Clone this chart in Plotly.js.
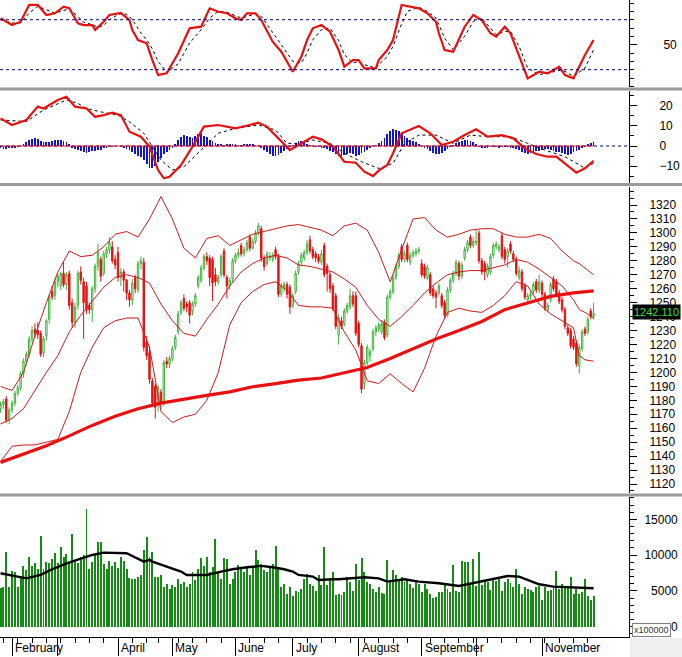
<!DOCTYPE html>
<html><head><meta charset="utf-8">
<script src="https://cdn.plot.ly/plotly-3.0.1.min.js"></script>
<style>html,body{margin:0;padding:0;background:#fff;}#chart{width:682px;height:657px;}</style>
</head><body><div id="chart"></div>
<script>
// ---------- price (OHLC), one value per trading day ----------
const openP = [
1174,1177,1181,1166,1173,1178,1185,1189,1199,1208,
1213,1224,1231,1230,1228,1214,1226,1238,1258,1255,
1265,1262,1271,1263,1271,1250,1236,1248,1272,1265,
1262,1248,1245,1260,1276,1281,1271,1285,1288,1290,
1281,1286,1268,1272,1266,1257,1252,1268,1259,1278,
1279,1222,1214,1194,1190,1178,1186,1178,1208,1206,
1210,1218,1229,1243,1253,1249,1250,1244,1249,1262,
1266,1275,1283,1282,1281,1270,1265,1270,1287,1268,
1262,1267,1280,1284,1291,1285,1288,1297,1289,1294,
1300,1303,1282,1278,1282,1281,1288,1283,1256,1260,
1263,1261,1248,1258,1272,1279,1282,1286,1295,1288,
1285,1283,1279,1291,1276,1270,1262,1255,1227,1237,
1235,1244,1247,1255,1255,1235,1219,1192,1207,1212,
1217,1229,1231,1229,1236,1227,1254,1258,1268,1276,
1290,1281,1291,1279,1284,1285,1287,1278,1276,1268,
1270,1260,1257,1257,1255,1250,1241,1259,1266,1271,
1278,1269,1282,1288,1297,1291,1293,1300,1280,1278,
1270,1272,1284,1290,1288,1298,1288,1283,1292,1285,
1281,1268,1272,1262,1252,1255,1258,1265,1259,1264,
1256,1245,1252,1267,1265,1257,1252,1245,1232,1230,
1224,1221,1205,1217,1231,1229,1244,1240];
const highP = [
1179,1181,1183,1175,1180,1187,1191,1201,1210,1215,
1226,1233,1235,1236,1230,1226,1238,1256,1262,1267,
1271,1272,1279,1272,1273,1253,1250,1273,1276,1268,
1265,1250,1262,1278,1292,1283,1287,1290,1297,1294,
1284,1290,1275,1274,1267,1259,1267,1270,1280,1283,
1282,1226,1219,1196,1192,1191,1188,1209,1211,1212,
1219,1227,1244,1252,1256,1251,1252,1251,1257,1270,
1277,1285,1286,1284,1283,1275,1270,1285,1289,1270,
1268,1282,1286,1289,1293,1290,1295,1299,1296,1302,
1307,1305,1284,1287,1286,1286,1290,1285,1264,1265,
1265,1263,1257,1273,1280,1286,1288,1295,1298,1290,
1287,1285,1288,1293,1278,1272,1264,1257,1242,1240,
1246,1250,1260,1258,1258,1237,1221,1209,1220,1217,
1231,1234,1236,1237,1238,1256,1260,1270,1278,1286,
1292,1287,1293,1286,1288,1289,1290,1281,1278,1277,
1272,1262,1259,1264,1257,1252,1261,1268,1273,1281,
1280,1279,1290,1295,1299,1297,1303,1302,1282,1280,
1278,1285,1293,1294,1292,1300,1290,1289,1294,1287,
1283,1276,1274,1264,1257,1258,1265,1267,1270,1266,
1258,1250,1265,1269,1267,1259,1254,1247,1234,1232,
1226,1223,1220,1231,1233,1240,1246,1250];
const lowP = [
1171,1174,1164,1163,1171,1176,1183,1187,1196,1205,
1211,1221,1225,1224,1211,1211,1223,1235,1252,1252,
1261,1259,1261,1259,1245,1232,1232,1245,1263,1224,
1242,1242,1236,1257,1273,1265,1269,1282,1285,1278,
1274,1265,1262,1258,1252,1247,1248,1257,1257,1274,
1215,1209,1192,1176,1167,1172,1175,1176,1203,1203,
1208,1216,1227,1241,1244,1243,1235,1241,1247,1260,
1264,1273,1277,1262,1251,1262,1263,1268,1268,1253,
1259,1265,1278,1282,1283,1283,1286,1287,1288,1292,
1298,1279,1273,1276,1280,1279,1281,1254,1254,1258,
1253,1242,1246,1256,1270,1277,1280,1284,1285,1281,
1279,1278,1277,1268,1258,1257,1244,1231,1220,1231,
1233,1242,1245,1247,1226,1218,1185,1188,1205,1208,
1215,1226,1229,1227,1223,1225,1252,1256,1266,1274,
1279,1279,1279,1277,1282,1283,1285,1268,1267,1266,
1255,1253,1246,1255,1246,1239,1240,1257,1264,1269,
1266,1267,1280,1286,1289,1289,1291,1278,1270,1266,
1268,1270,1282,1288,1286,1281,1278,1275,1285,1279,
1269,1266,1258,1252,1250,1252,1256,1257,1257,1254,
1244,1243,1250,1258,1254,1249,1243,1231,1226,1217,
1216,1204,1199,1215,1226,1227,1238,1238];
const closeP = [
1177,1179,1166,1173,1178,1185,1189,1199,1208,1213,
1224,1230,1228,1227,1213,1224,1237,1254,1254,1265,
1269,1271,1263,1270,1248,1236,1247,1271,1266,1250,
1245,1245,1260,1276,1286,1269,1285,1288,1293,1280,
1277,1268,1272,1266,1257,1252,1264,1260,1278,1280,
1218,1212,1195,1178,1175,1189,1178,1207,1206,1210,
1217,1225,1242,1250,1246,1247,1241,1249,1255,1268,
1275,1283,1280,1268,1264,1265,1268,1283,1270,1262,
1266,1280,1284,1286,1285,1288,1293,1289,1294,1300,
1305,1282,1276,1285,1283,1284,1283,1256,1262,1263,
1256,1247,1255,1271,1278,1284,1286,1292,1287,1283,
1282,1280,1285,1270,1271,1260,1246,1233,1239,1233,
1244,1248,1255,1249,1228,1220,1188,1207,1218,1215,
1229,1232,1234,1235,1225,1254,1258,1268,1276,1284,
1281,1285,1281,1284,1286,1287,1288,1270,1269,1275,
1257,1255,1254,1262,1248,1241,1259,1266,1271,1279,
1269,1277,1288,1293,1291,1294,1294,1280,1272,1272,
1276,1283,1291,1292,1290,1283,1281,1287,1287,1281,
1271,1273,1260,1254,1255,1256,1263,1259,1265,1256,
1246,1248,1263,1260,1256,1251,1245,1233,1228,1219,
1218,1206,1218,1229,1228,1238,1240,1242.11];
const lastPriceLabel = '1242.110';
const priceTicks = [1120,1130,1140,1150,1160,1170,1180,1190,1200,1210,1220,1230,1240,1250,1260,1270,1280,1290,1300,1310,1320];

// ---------- volume (x100000) ----------
const volume = [
5400,5500,10500,5600,7800,7700,5500,6800,8500,7900,
9800,8500,8900,8000,12700,8000,9000,8900,9500,10300,
8900,11100,9700,10200,9100,12900,9300,8900,9800,10000,
16400,8000,9000,10200,11900,11800,8800,8000,9200,8500,
9000,8200,9700,9200,8000,6800,6600,6700,6900,7200,
10700,12600,9800,10400,7000,6900,7200,5500,6000,5300,
5800,5600,6600,6000,6300,5500,6000,7600,6500,8000,
9600,8500,9800,7700,8300,12200,7500,6600,9600,9400,
6000,6700,7700,8600,8000,7700,8300,7200,8300,10700,
9300,8800,7900,7600,8300,8800,11300,8000,5600,6000,
4600,5500,4300,5000,4900,5300,6600,7300,6000,5700,
5000,7200,5800,11200,5800,6500,7600,4400,4500,4400,
4800,6900,6200,5000,8800,6500,9600,7600,6200,5900,
5300,4800,5600,4700,4500,9300,6500,7900,7200,6400,
6900,6200,6700,6000,5400,6200,6000,4900,6000,5300,
4500,4000,4100,4900,4800,5900,5200,4900,8600,5000,
4800,9200,9000,9000,6100,9500,5700,10400,5800,6400,
6200,5100,6700,6400,7000,5000,6200,6600,6100,5500,
8000,5900,4600,5500,5200,5100,4800,5600,5700,3800,
5500,5000,5100,5400,7800,5200,6000,5400,5700,7000,
4500,5200,4600,4900,6700,4300,3800,4300];
const volMaDay = [0,9,14,18,23,28,32,36,40,44,46,50,52,53,58,63,65,72,77,81,86,91,95,99,102,104,109,111,116,118,127,132,135,141,146,153,160,167,171,177,181,188,193,200,207];
const volMaVal = [7460,6760,7230,8020,8860,9560,10020,10350,10350,10260,9880,9090,9330,9090,8400,7700,7230,7230,7700,8020,8300,8490,8300,8020,7700,7230,7000,6530,6620,6620,6900,6760,6300,6620,6300,6070,5690,6300,6620,7090,7000,5930,5600,5510,5370];
const volTicks = [0,5000,10000,15000];
const volTickText = ['\u2007\u2007\u2007\u20070','\u20075000','10000','15000'];
const volUnitLabel = 'x100000';

// ---------- Bollinger bands & MA200 (read at sample days) ----------
const bbDay   = [0,4,8,12,16,20,24,28,32,36,40,44,48,52,56,60,64,68,72,76,80,84,88,92,96,100,104,108,112,116,120,124,128,132,136,140,144,148,152,156,160,164,168,172,176,180,184,188,192,196,200,202,204,207];
const bbUpper = [1190,1187,1200,1226,1250,1272,1287,1283,1284,1290,1299,1301,1297,1310,1326,1310,1289,1282,1296,1298,1291,1295,1299,1301,1303,1305,1306,1304,1302,1298,1305,1307,1302,1286,1265,1288,1310,1311,1302,1297,1299,1302,1303,1303,1299,1297,1297,1299,1296,1287,1280,1278,1275,1270];
const bbMid   = [1163,1167,1174,1187,1200,1212,1229,1241,1251,1261,1268,1270,1268,1264,1249,1237,1228,1226,1238,1249,1262,1272,1278,1282,1284,1282,1277,1276,1274,1272,1267,1261,1248,1238,1233,1240,1248,1257,1264,1270,1272,1273,1273,1275,1277,1281,1279,1274,1268,1262,1252,1245,1243,1239];
const bbLower = [1136,1147,1148,1148,1150,1152,1172,1200,1218,1232,1237,1239,1239,1218,1172,1164,1168,1170,1180,1200,1234,1250,1258,1263,1265,1259,1248,1247,1247,1246,1229,1216,1194,1192,1199,1192,1186,1203,1226,1243,1246,1244,1243,1248,1255,1265,1262,1249,1242,1237,1232,1212,1209,1208];
const ma200Day = [0,8,16,24,32,40,48,56,64,72,80,88,96,104,112,120,128,136,144,152,160,168,176,184,192,200,207];
const ma200Val = [1135.5,1141.6,1147.5,1154.5,1162,1168.5,1174,1178,1181,1183.5,1186,1189.7,1192,1194.5,1196,1200,1203.5,1210,1217,1224,1230,1236.5,1245,1250,1254.5,1257,1258.4];

// ---------- Stochastic ----------
const stochKDay = [0,4,7,10,13,16,19,22,24,27,29,32,33,36,38,41,42,45,46,48,51,53,55,58,62,66,70,73,76,79,82,84,86,89,91,95,98,102,105,107,109,112,115,118,120,123,125,127,131,132,135,137,140,146,149,152,153,155,158,162,165,168,171,173,176,178,181,184,188,191,195,197,200,204,207];
const stochK = [81.7,73.6,77.6,97.7,97.7,85.7,87.7,95.6,93.7,75.7,73.6,73.6,67.6,77.6,85.7,87.7,88.2,79.6,67.6,55.6,51.7,31.6,13.6,15.7,39.7,69.7,71.6,93.7,89.6,87.7,81.7,79.6,87.7,87.7,79.6,53.6,41.6,17.6,35.6,55.6,69.7,73.6,65.6,43.6,23.6,31.6,31.6,21.6,21.6,31.6,43.6,55.6,97.7,93.7,87.7,77.6,63.7,43.6,41.6,71.6,85.7,79.6,63.7,59.6,71.6,63.7,37.6,9.6,17.6,15.7,23.6,13.6,9.6,37.6,55.6];
const stochDDay = [0,4,7,10,13,16,19,22,24,27,29,32,34,36,38,41,43,45,47,49,51,53,55,58,62,66,70,73,76,79,82,84,86,89,91,95,98,102,105,107,109,112,115,118,120,123,125,127,131,132,135,137,140,142,146,149,152,153,155,158,162,165,168,171,173,176,178,181,184,188,191,195,197,200,204,207];
const stochD = [80,76,76,88,96,92,88,91,93,84,77,74,71,73,80,86,88,84,75,64,56,45,30,17,27,52,68,82,90,89,85,82,84,87,84,65,50,30,28,40,56,68,70,55,38,28,30,26,22,26,36,48,75,90,95,90,82,74,58,44,60,78,82,70,62,66,66,48,22,14,16,19,18,12,22,44];

// ---------- MACD ----------
const macdDay = [0,4,9,13,15,20,23,26,30,33,36,39,42,45,49,52,55,57,59,63,67,71,76,79,82,87,90,93,96,99,101,105,109,112,116,120,124,127,130,132,135,137,140,146,150,154,158,162,166,170,175,179,183,187,191,194,197,201,204,207];
const macdLine = [13.7,10.4,12.9,19.5,18.6,22.8,24.4,19.5,18.6,14.5,15.3,16.5,15.3,7.1,4.6,-0.3,-11.9,-16,-15.2,-9.4,-0.3,9.6,10.4,9.6,8.7,10.4,11.6,9.6,5.4,1.3,-2,1.3,4.6,3.3,-0.3,-7.8,-8.3,-12.7,-14.9,-12.2,-9.4,-3.6,6.3,9.9,6.3,0.5,2.1,5.4,8.3,4.6,5.4,3.8,-1.2,-4,-5.3,-5.3,-8.6,-13.2,-11,-7.3];
const signalDay = [0,9,15,23,27,30,35,41,45,50,53,56,60,64,70,76,82,90,96,100,105,109,115,120,126,132,137,141,146,152,158,164,170,178,184,190,197,204,207];
const signalLine = [12.9,12.1,17.8,22.8,21.1,18.6,16.9,15.3,12,6.3,-0.3,-6.9,-11.9,-10.2,-2,6.3,8.7,10.4,7.9,1.3,1.3,3,1.3,-3.6,-7.8,-11.1,-8.6,1.3,5.4,5.4,1.3,5.4,4.6,4.6,1.3,-2,-5.3,-11,-8.6];
const macdHist = [
-1,-1.5,-1.5,-1.2,-1,-0.8,-0.5,0,
1,2,3,3.5,4,3.5,2.5,2,
2,2,2.5,3,3,3,2.5,2,1,
-1,-1.5,-2,-2.5,-3,-3.5,-3,-2.5,-2.5,-2,-2,-1,-1,-0.5,
-0.5,0,0,-0.5,-1,
-1.5,-2,-3,-4,-5,-5.5,-7,-9,-11,-11,-10,-8,-6,-4,-3,-2,-1,
1,3,4.5,5.5,5,4.5,4,5,6,6.5,5,4.5,
3,2.5,1.5,1,0.8,
0.5,0.8,1,1,0.8,0.5,0.5,0.8,1,1,0.8,0.5,0.3,
-1,-2,-3,-4,-5,-5,-4.5,-3.5,-2.5,-1.5,-0.5,
0.5,1.5,2.5,2.5,2,1,0.5,0,
-0.5,-0.5,-1,-1,-1.5,
-2.5,-3,-4,-5,-5,-4.5,-4,-3.5,-4,-5,-4.5,-3.5,-3,-2,-1,0,0.5,
1.5,2.5,4,6,7.5,8.5,8,7.5,6,5,4,3,2.5,2,1,
0,-1,-1.5,-2.5,-3.5,-4,-4,-3.5,-2.5,-1.5,-0.5,0.5,
1.5,2,2.5,3,3,2.5,2,1,
-0.5,-1,-1,-1,-0.5,-0.5,-0.5,-1,-0.5,-0.5,-0.5,-1,-1,-1.5,
-2,-3,-3.5,-4,-3.5,-3,-2.5,-2.5,-2,-1.5,-1.5,-2,-2.5,-3,-3,-3.5,-4,-4.5,-4,-3,-2.5,-2,-1,-0.5,
1,1.5,2];

// ---------- time axis ----------
const monthTickDay = [4,20,41,60,82,102,125,147,166,189];
const monthLabelDay = [4,41,60,82,102,125,147,189];
const monthLabels = ['February','April','May','June','July','August','September','November'];
const weekTickDay = [1,6,11,16,21,26,31,36,46,51,55,62,67,72,77,87,92,97,107,112,117,122,127,132,137,142,150,155,160,165,170,175,180,185,190,195,200,205];

// ---------- drawing ----------
const days = closeP.map((_, i) => i);
const FONT = 'Liberation Sans, Arial, sans-serif';
const PH = 637; // plot height in px (figure 657 - bottom margin 20)
const py = px => 1 - px / PH;
const RED = '#e81010', BAND = '#d01818', UPG = '#3cb43c';

function rAxis(domain, range, extra) {
  return Object.assign({
    domain: domain, range: range, side: 'right', anchor: 'x',
    showline: true, linecolor: '#000', linewidth: 1, mirror: false,
    showgrid: false, zeroline: false, ticks: 'outside', ticklen: 7, tickcolor: '#000',
    tickfont: {family: FONT, size: 12, color: '#000'}, fixedrange: true
  }, extra);
}

const traces = [
  {type:'scatter', mode:'lines', x: stochDDay, y: stochD, yaxis:'y', line:{color:'#000', width:1, dash:'dot'}, hoverinfo:'skip'},
  {type:'scatter', mode:'lines', x: stochKDay, y: stochK, yaxis:'y', line:{color:RED, width:2.2}, hoverinfo:'skip'},
  {type:'bar', x: days, y: macdHist, yaxis:'y2', width:0.62, marker:{color:'#1010e0', line:{width:0}}, hoverinfo:'skip'},
  {type:'scatter', mode:'lines', x: signalDay, y: signalLine, yaxis:'y2', line:{color:'#000', width:1, dash:'dot'}, hoverinfo:'skip'},
  {type:'scatter', mode:'lines', x: macdDay, y: macdLine, yaxis:'y2', line:{color:RED, width:2.2}, hoverinfo:'skip'},
  {type:'scatter', mode:'lines', x: bbDay, y: bbUpper, yaxis:'y3', line:{color:BAND, width:1}, hoverinfo:'skip'},
  {type:'scatter', mode:'lines', x: bbDay, y: bbMid, yaxis:'y3', line:{color:BAND, width:1}, hoverinfo:'skip'},
  {type:'scatter', mode:'lines', x: bbDay, y: bbLower, yaxis:'y3', line:{color:BAND, width:1}, hoverinfo:'skip'},
  {type:'candlestick', x: days, open: openP, high: highP, low: lowP, close: closeP, yaxis:'y3',
   increasing:{line:{color:UPG, width:1}, fillcolor:'#ffffff'},
   decreasing:{line:{color:RED, width:1}, fillcolor:RED}, whiskerwidth:0, hoverinfo:'skip'},
  {type:'scatter', mode:'lines', x: ma200Day, y: ma200Val, yaxis:'y3', line:{color:RED, width:3.2}, hoverinfo:'skip'},
  {type:'bar', x: days, y: volume, yaxis:'y4', width:0.68, marker:{color:'#148c14', line:{width:0}}, hoverinfo:'skip'},
  {type:'scatter', mode:'lines', x: volMaDay, y: volMaVal, yaxis:'y4', line:{color:'#000', width:2.4}, hoverinfo:'skip'}
];

const sepY = [89, 184.5, 495];
const shapes = [];
sepY.forEach(p => {
  shapes.push({type:'line', xref:'paper', yref:'paper', x0:0, x1:682/629, y0:py(p), y1:py(p), line:{color:'#9a9a9a', width:3}});
});
shapes.push({type:'line', xref:'paper', yref:'y', x0:0, x1:1, y0:80, y1:80, line:{color:'#000080', width:1, dash:'dot'}});
shapes.push({type:'line', xref:'paper', yref:'y', x0:0, x1:1, y0:20, y1:20, line:{color:'#000080', width:1, dash:'dot'}});
shapes.push({type:'line', xref:'paper', yref:'y2', x0:0, x1:1, y0:0, y1:0, line:{color:'#000080', width:1, dash:'dot'}});
shapes.push({type:'line', xref:'x', yref:'y2', x0:0, x1:days.length - 1, y0:0, y1:0, line:{color:'#e02020', width:1}});
shapes.push({type:'rect', xref:'paper', yref:'paper', x0:630/629, x1:682/629, y0:py(657), y1:py(638), fillcolor:'#efefef', line:{width:0}});

const annotations = monthLabelDay.map((d, k) => ({
  x: d, xref:'x', y: py(648), yref:'paper', text: monthLabels[k], showarrow:false,
  xanchor:'left', yanchor:'middle', xshift:1, font:{family:FONT, size:12, color:'#000'}
}));
annotations.push({x: 1 + 3/629, xref:'paper', y: closeP[closeP.length-1], yref:'y3', text: lastPriceLabel,
  showarrow:false, xanchor:'left', yanchor:'middle', bgcolor:'#000', borderpad:1, yshift:2,
  font:{family:FONT, size:11, color:'#2fe02f'}});
annotations.push({x: 1 + 3/629, xref:'paper', y: py(630), yref:'paper', text: volUnitLabel, showarrow:false,
  xanchor:'left', yanchor:'middle', bgcolor:'#fff', bordercolor:'#808080', borderwidth:1, borderpad:1,
  font:{family:FONT, size:9, color:'#333'}});

const layout = {
  width: 682, height: 657,
  margin: {l:0, r:53, t:0, b:20, pad:0},
  paper_bgcolor:'#fff', plot_bgcolor:'#fff',
  showlegend:false, barmode:'overlay', bargap:0,
  font:{family:FONT, size:12, color:'#000'},
  xaxis: {domain:[0,1], range:[-0.188, 219.36], anchor:'y4', showgrid:false, zeroline:false,
    showline:true, linecolor:'#000', linewidth:1,
    tickmode:'array', tickvals: monthTickDay, ticks:'outside', ticklen:18, tickcolor:'#000',
    showticklabels:false, rangeslider:{visible:false}, fixedrange:true,
    minor:{tickmode:'array', tickvals: weekTickDay, ticks:'outside', ticklen:5, tickcolor:'#000', showgrid:false}},
  yaxis: rAxis([py(87), 1], [-0.78, 103.66], {tickmode:'array', tickvals:[50], ticklabelstandoff:24,
    minor:{dtick:10, tick0:0, ticks:'outside', ticklen:4, tickcolor:'#000'}}),
  yaxis2: rAxis([py(183), py(91)], [-18.32, 27.23], {tickmode:'array', tickvals:[-10,0,10,20], ticklabelstandoff:20,
    minor:{dtick:5, tick0:0, ticks:'outside', ticklen:4, tickcolor:'#000'}}),
  yaxis3: rAxis([py(493), py(187)], [1113.55, 1332.9], {tickmode:'array', tickvals: priceTicks, ticklabelstandoff:10,
    minor:{dtick:5, tick0:1120, ticks:'outside', ticklen:4, tickcolor:'#000'}}),
  yaxis4: rAxis([0, py(497)], [-1439, 18119], {tickmode:'array', tickvals: volTicks, ticktext: volTickText, ticklabelstandoff:5,
    minor:{dtick:1000, tick0:0, ticks:'outside', ticklen:4, tickcolor:'#000'}}),
  shapes: shapes,
  annotations: annotations
};

Plotly.newPlot('chart', traces, layout, {staticPlot:true, displayModeBar:false});
</script>
</body></html>
